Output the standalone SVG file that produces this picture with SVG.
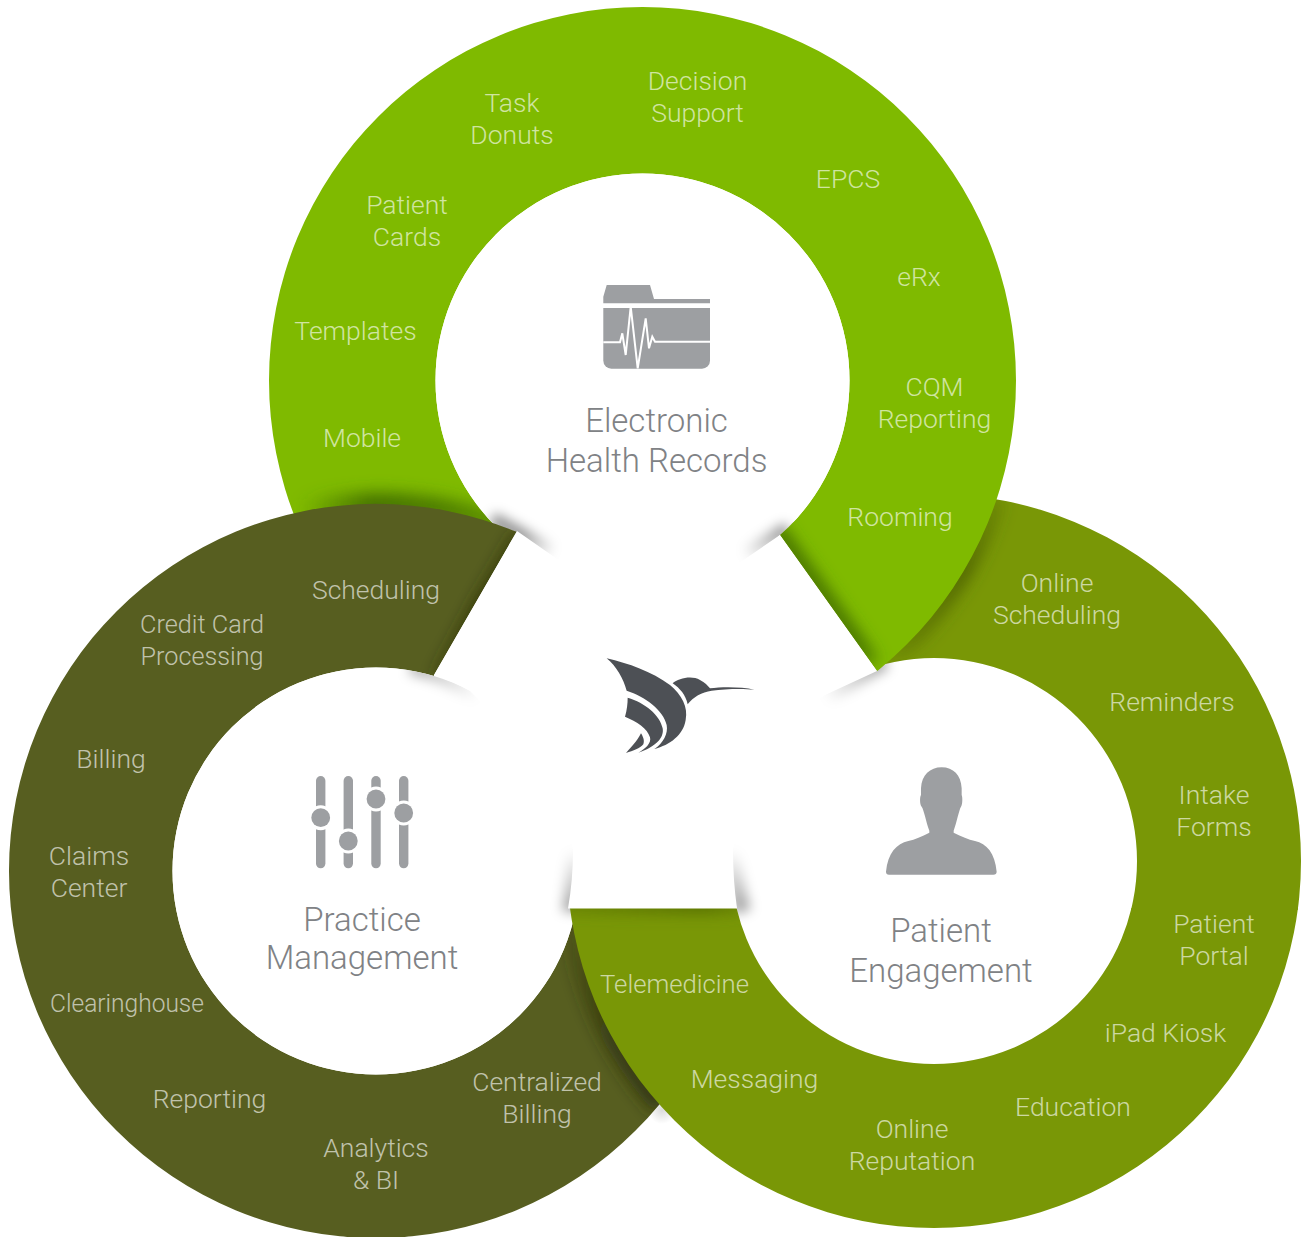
<svg xmlns="http://www.w3.org/2000/svg" width="1302" height="1237" viewBox="0 0 1302 1237">
<style>
.l{font-family:Roboto,"Liberation Sans",sans-serif;font-weight:300;font-size:26.500px;fill:#fff;fill-opacity:.64;text-anchor:middle}
.c{font-family:Roboto,"Liberation Sans",sans-serif;font-weight:300;font-size:33px;fill:#808285;text-anchor:middle}
.i{fill:#9d9fa2}
.s{fill:none}
</style>
<defs>
<filter id="b5" filterUnits="userSpaceOnUse" x="0" y="0" width="1302" height="1237"><feGaussianBlur stdDeviation="6"/></filter>
<filter id="b8" filterUnits="userSpaceOnUse" x="0" y="0" width="1302" height="1237"><feGaussianBlur stdDeviation="8"/></filter>
<clipPath id="cGreenRing"><path clip-rule="evenodd" d="M269,380.5a373.5,373.5 0 1,0 747,0a373.5,373.5 0 1,0 -747,0ZM435.5,380.5a207,207 0 1,0 414,0a207,207 0 1,0 -414,0Z"/></clipPath>
<clipPath id="cDarkRing"><path clip-rule="evenodd" d="M9,871a367,367 0 1,0 734,0a367,367 0 1,0 -734,0ZM172.5,871a203.5,203.5 0 1,0 407,0a203.5,203.5 0 1,0 -407,0Z"/></clipPath>
<clipPath id="cOliveRing"><path clip-rule="evenodd" d="M567,861a367,367 0 1,0 734,0a367,367 0 1,0 -734,0ZM731,861a203,203 0 1,0 406,0a203,203 0 1,0 -406,0Z"/></clipPath>
<clipPath id="cGreenCut"><polygon points="0,0 1302,0 1302,800 969,800 780,535 517,531 0,531"/></clipPath>
<clipPath id="cDarkCut"><polygon points="0,400 575,430 517,531 434,675 376,871 570,908 700,908 700,1237 0,1237"/></clipPath>
<clipPath id="cOliveLow"><rect x="0" y="908" width="1302" height="329"/></clipPath>
<clipPath id="cOliveBack"><polygon points="780,535 877,671 877,910 1302,910 1302,0 780,0"/></clipPath>
<clipPath id="cGreenDisc"><circle cx="642.5" cy="380.5" r="207"/></clipPath>
<clipPath id="cDarkDisc"><circle cx="376" cy="871" r="203.5"/></clipPath>
<clipPath id="cOliveDisc"><circle cx="934" cy="861" r="203"/></clipPath>
<linearGradient id="gDG" gradientUnits="userSpaceOnUse" x1="300" y1="0" x2="500" y2="0"><stop offset="0" stop-color="#3f6b00" stop-opacity="0"/><stop offset=".35" stop-color="#3f6b00" stop-opacity=".95"/><stop offset=".7" stop-color="#3f6b00" stop-opacity=".8"/><stop offset="1" stop-color="#3f6b00" stop-opacity=".5"/></linearGradient>
<linearGradient id="gGO" gradientUnits="userSpaceOnUse" x1="1000" y1="498" x2="880" y2="665"><stop offset="0" stop-color="#435500" stop-opacity=".25"/><stop offset=".4" stop-color="#435500" stop-opacity=".8"/><stop offset=".8" stop-color="#435500" stop-opacity=".45"/><stop offset="1" stop-color="#435500" stop-opacity="0"/></linearGradient>
<linearGradient id="gOD" gradientUnits="userSpaceOnUse" x1="572" y1="925" x2="662" y2="1106"><stop offset="0" stop-color="#2a2e0a" stop-opacity=".2"/><stop offset=".6" stop-color="#2a2e0a" stop-opacity=".75"/><stop offset="1" stop-color="#2a2e0a" stop-opacity=".85"/></linearGradient>
<linearGradient id="gT" gradientUnits="userSpaceOnUse" x1="517" y1="531" x2="434" y2="675"><stop offset="0" stop-color="#2a2e08" stop-opacity=".75"/><stop offset=".5" stop-color="#2a2e08" stop-opacity="1"/><stop offset="1" stop-color="#2a2e08" stop-opacity=".5"/></linearGradient>
<linearGradient id="gC" gradientUnits="userSpaceOnUse" x1="780" y1="535" x2="877" y2="671"><stop offset="0" stop-color="#3f6b00" stop-opacity="1"/><stop offset=".8" stop-color="#3f6b00" stop-opacity="1"/><stop offset="1" stop-color="#3f6b00" stop-opacity=".6"/></linearGradient>
<linearGradient id="gH" gradientUnits="userSpaceOnUse" x1="570" y1="0" x2="737" y2="0"><stop offset="0" stop-color="#4f6500" stop-opacity=".45"/><stop offset=".8" stop-color="#4f6500" stop-opacity=".95"/><stop offset="1" stop-color="#4f6500" stop-opacity=".5"/></linearGradient>
<linearGradient id="w1" gradientUnits="userSpaceOnUse" x1="495" y1="522" x2="552" y2="556"><stop offset="0" stop-color="#000" stop-opacity=".42"/><stop offset=".45" stop-color="#000" stop-opacity=".42"/><stop offset="1" stop-color="#000" stop-opacity="0"/></linearGradient>
<linearGradient id="w2" gradientUnits="userSpaceOnUse" x1="785" y1="532" x2="745" y2="558"><stop offset="0" stop-color="#000" stop-opacity=".42"/><stop offset="1" stop-color="#000" stop-opacity="0"/></linearGradient>
<linearGradient id="w3" gradientUnits="userSpaceOnUse" x1="885" y1="665" x2="825" y2="697"><stop offset="0" stop-color="#000" stop-opacity=".38"/><stop offset="1" stop-color="#000" stop-opacity="0"/></linearGradient>
<linearGradient id="w4" gradientUnits="userSpaceOnUse" x1="420" y1="672" x2="478" y2="696"><stop offset="0" stop-color="#000" stop-opacity=".3"/><stop offset="1" stop-color="#000" stop-opacity="0"/></linearGradient>
<linearGradient id="w5" gradientUnits="userSpaceOnUse" x1="0" y1="850" x2="0" y2="910"><stop offset="0" stop-color="#000" stop-opacity="0"/><stop offset="1" stop-color="#000" stop-opacity=".36"/></linearGradient>
<radialGradient id="w6" gradientUnits="userSpaceOnUse" cx="662" cy="1110" r="14"><stop offset="0" stop-color="#000" stop-opacity=".14"/><stop offset="1" stop-color="#000" stop-opacity="0"/></radialGradient>
</defs>
<rect width="1302" height="1237" fill="#fff"/>
<circle cx="662" cy="1110" r="14" fill="url(#w6)"/>

<g id="node-patient-engagement-under">
<g clip-path="url(#cOliveBack)"><path fill="#799706" fill-rule="evenodd" d="M567,861a367,367 0 1,0 734,0a367,367 0 1,0 -734,0ZM731,861a203,203 0 1,0 406,0a203,203 0 1,0 -406,0Z"/></g>
<g clip-path="url(#cOliveRing)"><path class="s" d="M997,498A373.5,373.5 0 0 1 877,671" stroke="url(#gGO)" stroke-width="16" filter="url(#b8)"/></g>
<g clip-path="url(#cOliveDisc)"><path class="s" d="M885,662L822,700" stroke="url(#w3)" stroke-width="14" filter="url(#b5)"/>
<path class="s" d="M729,850Q734,880 742,912" stroke="url(#w5)" stroke-width="18" filter="url(#b5)"/></g>
</g>

<g id="node-electronic-health-records">
<g clip-path="url(#cGreenCut)"><path fill="#7fba00" fill-rule="evenodd" d="M269,380.5a373.5,373.5 0 1,0 747,0a373.5,373.5 0 1,0 -747,0ZM435.5,380.5a207,207 0 1,0 414,0a207,207 0 1,0 -414,0Z"/>
<g clip-path="url(#cGreenRing)"><path class="s" d="M775,528L872,664" stroke="url(#gC)" stroke-width="15" filter="url(#b8)"/>
<path class="s" d="M290,515A367,367 0 0 1 517,531" stroke="url(#gDG)" stroke-width="22" filter="url(#b8)"/></g></g>
<circle cx="642.5" cy="380.5" r="207" fill="#fff"/>
<g clip-path="url(#cGreenDisc)"><path class="s" d="M492,519L552,552" stroke="url(#w1)" stroke-width="14" filter="url(#b5)"/>
<path class="s" d="M788,529L745,555" stroke="url(#w2)" stroke-width="14" filter="url(#b5)"/></g>
</g>

<g id="node-practice-management">
<g clip-path="url(#cDarkCut)"><path fill="#575e20" fill-rule="evenodd" d="M9,871a367,367 0 1,0 734,0a367,367 0 1,0 -734,0ZM172.5,871a203.5,203.5 0 1,0 407,0a203.5,203.5 0 1,0 -407,0Z"/>
<g clip-path="url(#cDarkRing)"><path class="s" d="M522,535L439,679" stroke="url(#gT)" stroke-width="14" filter="url(#b8)"/>
<path class="s" d="M570,908A367,367 0 0 0 662,1106" stroke="url(#gOD)" stroke-width="20" filter="url(#b8)"/></g></g>
<circle cx="376" cy="871" r="203.5" fill="#fff"/>
<g clip-path="url(#cDarkDisc)"><path class="s" d="M410,668Q445,675 482,700" stroke="url(#w4)" stroke-width="12" filter="url(#b5)"/>
<path class="s" d="M576,850Q575,880 571,912" stroke="url(#w5)" stroke-width="18" filter="url(#b5)"/></g>
</g>

<g id="node-patient-engagement">
<g clip-path="url(#cOliveLow)"><path fill="#799706" fill-rule="evenodd" d="M567,861a367,367 0 1,0 734,0a367,367 0 1,0 -734,0ZM731,861a203,203 0 1,0 406,0a203,203 0 1,0 -406,0Z"/>
<g clip-path="url(#cOliveRing)"><path class="s" d="M560,905L745,905" stroke="url(#gH)" stroke-width="14" filter="url(#b8)"/></g></g>
</g>

<path id="center-plate" fill="#fff" d="M517,531L560,561L645,622L745,559L780,535L877,671L825,695L790,716Q745,780 733,850Q733,880 737,908.500L568,908.500Q573,880 573,850Q560,780 470,691Q452,681 434,675Z"/>

<g id="logo" fill="#4d5055" transform="translate(595,650) scale(.3333)">
<path d="M35,25C100,40 170,65 225,105C260,135 280,170 272,210C265,255 225,285 178,297C205,280 220,250 215,225C205,180 150,140 95,122C85,85 65,50 35,25Z"/>
<path d="M98,143C150,158 195,195 203,235C208,262 185,290 130,308C150,298 170,280 165,262C158,235 125,215 90,200C96,180 98,160 98,143Z"/>
<path d="M138,250C125,275 110,290 93,309C115,302 135,295 145,283C150,272 143,258 138,250Z"/>
<path d="M233,100C250,85 290,75 315,90C330,97 338,107 345,115C380,110 440,110 478,119C440,115 390,117 350,122C320,127 295,140 278,163C272,135 255,115 233,100Z"/>
</g>

<g id="ehr-content">
<path class="i" d="M606.700,285L650,285L654,299L710,299L710,303.300L603.300,303.300L603.300,296.700Z"/>
<path class="i" d="M603.300,308H710V360.700a8,8 0 0 1 -8,8H611.300a8,8 0 0 1 -8,-8Z"/>
<polyline points="603.300,342.300 620,342.300 622.300,333.300 625.700,355 630.700,306.700 637.700,368.300 645.700,318.300 649,348.300 652.300,336.700 655,341.700 710,341.700" fill="none" stroke="#fff" stroke-width="2"/>
<text class="c" x="656.500" y="432">Electronic</text><text class="c" x="656.500" y="472">Health Records</text>
<text class="l" x="697.500" y="90">Decision</text><text class="l" x="697.500" y="122">Support</text>
<text class="l" x="512" y="112">Task</text><text class="l" x="512" y="144">Donuts</text>
<text class="l" x="848" y="188">EPCS</text>
<text class="l" x="407" y="214">Patient</text><text class="l" x="407" y="246">Cards</text>
<text class="l" x="919" y="286">eRx</text>
<text class="l" x="355.500" y="340">Templates</text>
<text class="l" x="934.500" y="396">CQM</text><text class="l" x="934.500" y="428">Reporting</text>
<text class="l" x="362" y="447">Mobile</text>
<text class="l" x="900" y="526">Rooming</text>
</g>

<g id="pm-content">
<g class="i">
<rect x="316" y="776" width="9.400" height="92.300" rx="4.700"/><rect x="343.600" y="776" width="9.400" height="92.300" rx="4.700"/><rect x="371.300" y="776" width="9.400" height="92.300" rx="4.700"/><rect x="399" y="776" width="9.400" height="92.300" rx="4.700"/>
</g>
<g fill="#fff"><circle cx="320.700" cy="817.700" r="12.500"/><circle cx="348.300" cy="841" r="12.500"/><circle cx="376" cy="799" r="12.500"/><circle cx="403.700" cy="813" r="12.500"/></g>
<g class="i"><circle cx="320.700" cy="817.700" r="9.400"/><circle cx="348.300" cy="841" r="9.400"/><circle cx="376" cy="799" r="9.400"/><circle cx="403.700" cy="813" r="9.400"/></g>
<text class="c" x="362" y="930.500">Practice</text><text class="c" x="362" y="969">Management</text>
<text class="l" x="376" y="599">Scheduling</text>
<text class="l" x="202" y="633" textLength="124" lengthAdjust="spacingAndGlyphs">Credit Card</text><text class="l" x="202" y="665" textLength="123" lengthAdjust="spacingAndGlyphs">Processing</text>
<text class="l" x="111" y="768">Billing</text>
<text class="l" x="89" y="865">Claims</text><text class="l" x="89" y="897">Center</text>
<text class="l" x="127" y="1012" textLength="154" lengthAdjust="spacingAndGlyphs">Clearinghouse</text>
<text class="l" x="209.500" y="1108">Reporting</text>
<text class="l" x="537" y="1091">Centralized</text><text class="l" x="537" y="1123">Billing</text>
<text class="l" x="376" y="1157">Analytics</text><text class="l" x="376" y="1189">&amp; BI</text>
</g>

<g id="pe-content">
<path class="i" transform="translate(875,760) scale(.3333)" d="M200,22C165,22 140,45 138,85L138,105C134,110 134,135 140,140C147,150 153,185 163,212L163,218C140,230 120,238 100,243C65,250 38,280 33,335Q33,344 42,344L355,344Q365,344 365,335C360,280 335,250 300,243C280,238 260,230 236,218L236,212C246,185 252,150 258,140C263,135 263,110 260,105L260,85C258,45 235,22 200,22Z"/>
<text class="c" x="941" y="942">Patient</text><text class="c" x="941" y="982">Engagement</text>
<text class="l" x="1057" y="592">Online</text><text class="l" x="1057" y="624">Scheduling</text>
<text class="l" x="1172" y="711">Reminders</text>
<text class="l" x="1214" y="804">Intake</text><text class="l" x="1214" y="836">Forms</text>
<text class="l" x="1214" y="933">Patient</text><text class="l" x="1214" y="965">Portal</text>
<text class="l" x="1165.500" y="1042">iPad Kiosk</text>
<text class="l" x="1073" y="1116">Education</text>
<text class="l" x="912" y="1138">Online</text><text class="l" x="912" y="1170">Reputation</text>
<text class="l" x="754.500" y="1088">Messaging</text>
<text class="l" x="674.500" y="993" textLength="149" lengthAdjust="spacingAndGlyphs">Telemedicine</text>
</g>
</svg>
